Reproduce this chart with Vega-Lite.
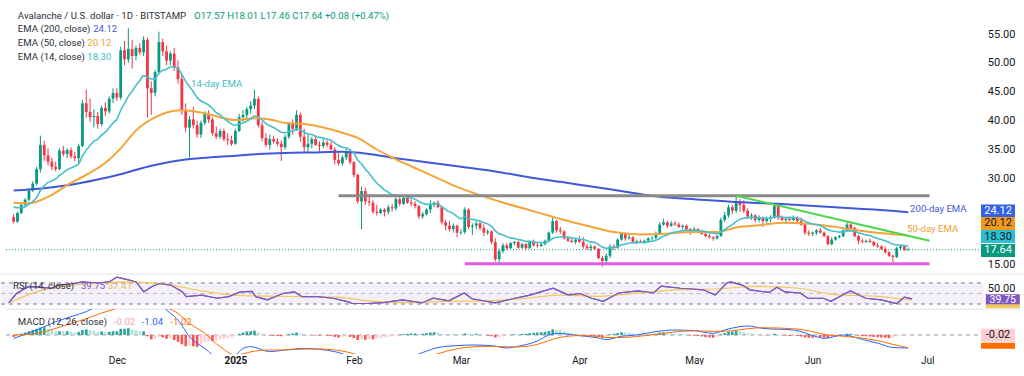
{
"$schema":"https://vega.github.io/schema/vega-lite/v6.json",
"padding":0,
"background":"#ffffff",
"spacing":0,
"bounds":"flush",
"config":{"view":{"stroke":null},"axis":{"grid":false,"domain":false,"ticks":false,"tickSize":0,"title":null,"labelOverlap":false},"axisY":{"labelOverlap":false},"font":"Roboto"},
"resolve":{"scale":{"y":"independent"}},
"datasets":{
"candles":[
{"t":"2024-11-04","o":23.3,"h":23.8,"l":22.2,"c":22.5,"e":25.1,"g":-0.15},
{"t":"2024-11-05","o":22.5,"h":24.2,"l":22.3,"c":24.0,"e":24.9,"g":-0.1},
{"t":"2024-11-06","o":24.0,"h":25.8,"l":23.8,"c":25.4,"e":24.9,"g":0.1},
{"t":"2024-11-07","o":25.4,"h":26.6,"l":25.0,"c":26.3,"e":25.1,"g":0.2},
{"t":"2024-11-08","o":26.3,"h":28.2,"l":26.0,"c":27.9,"e":25.5,"g":0.3},
{"t":"2024-11-09","o":27.9,"h":29.5,"l":27.6,"c":29.1,"e":26.0,"g":0.4},
{"t":"2024-11-10","o":29.1,"h":32.0,"l":28.8,"c":31.6,"e":26.7,"g":0.5},
{"t":"2024-11-11","o":31.6,"h":37.4,"l":31.0,"c":35.8,"e":27.9,"g":0.6},
{"t":"2024-11-12","o":35.8,"h":36.5,"l":33.0,"c":34.0,"e":28.7,"g":0.62},
{"t":"2024-11-13","o":34.0,"h":35.2,"l":32.2,"c":32.9,"e":29.3,"g":0.5},
{"t":"2024-11-14","o":32.9,"h":33.6,"l":31.4,"c":32.0,"e":29.6,"g":0.4},
{"t":"2024-11-15","o":32.0,"h":32.9,"l":31.2,"c":31.6,"e":29.9,"g":0.3},
{"t":"2024-11-16","o":31.6,"h":35.2,"l":31.4,"c":34.8,"e":30.5,"g":0.3},
{"t":"2024-11-17","o":34.8,"h":35.6,"l":33.8,"c":34.2,"e":31.0,"g":0.28},
{"t":"2024-11-18","o":34.2,"h":35.2,"l":33.5,"c":34.9,"e":31.5,"g":0.3},
{"t":"2024-11-19","o":34.9,"h":35.4,"l":33.4,"c":33.8,"e":31.8,"g":0.25},
{"t":"2024-11-20","o":33.8,"h":34.6,"l":33.0,"c":33.5,"e":32.1,"g":0.2},
{"t":"2024-11-21","o":33.5,"h":36.0,"l":32.7,"c":35.6,"e":32.5,"g":0.25},
{"t":"2024-11-22","o":35.6,"h":43.6,"l":35.4,"c":43.0,"e":33.9,"g":0.4},
{"t":"2024-11-23","o":43.0,"h":45.4,"l":40.5,"c":41.5,"e":34.9,"g":0.45},
{"t":"2024-11-24","o":41.5,"h":43.8,"l":39.8,"c":40.6,"e":35.7,"g":0.4},
{"t":"2024-11-25","o":40.6,"h":42.0,"l":38.8,"c":40.8,"e":36.4,"g":0.35},
{"t":"2024-11-26","o":40.8,"h":41.5,"l":38.6,"c":39.4,"e":36.8,"g":0.25},
{"t":"2024-11-27","o":39.4,"h":42.6,"l":39.0,"c":42.2,"e":37.5,"g":0.28},
{"t":"2024-11-28","o":42.2,"h":43.2,"l":40.8,"c":41.6,"e":38.0,"g":0.22},
{"t":"2024-11-29","o":41.6,"h":44.2,"l":41.2,"c":43.8,"e":38.8,"g":0.25},
{"t":"2024-11-30","o":43.8,"h":45.6,"l":43.0,"c":44.8,"e":39.6,"g":0.3},
{"t":"2024-12-01","o":44.8,"h":45.6,"l":43.4,"c":44.0,"e":40.2,"g":0.3},
{"t":"2024-12-02","o":44.0,"h":52.8,"l":43.6,"c":52.2,"e":41.8,"g":0.5},
{"t":"2024-12-03","o":52.2,"h":53.8,"l":49.6,"c":50.6,"e":43.0,"g":0.5},
{"t":"2024-12-04","o":50.6,"h":56.0,"l":50.0,"c":52.4,"e":44.2,"g":0.55},
{"t":"2024-12-05","o":52.4,"h":54.0,"l":49.0,"c":51.2,"e":45.1,"g":0.45},
{"t":"2024-12-06","o":51.2,"h":53.0,"l":50.4,"c":52.6,"e":46.1,"g":0.4},
{"t":"2024-12-07","o":52.6,"h":53.4,"l":51.4,"c":51.8,"e":46.9,"g":0.3},
{"t":"2024-12-08","o":51.8,"h":54.6,"l":51.2,"c":54.0,"e":47.8,"g":0.3},
{"t":"2024-12-09","o":54.0,"h":54.4,"l":40.5,"c":45.6,"e":47.5,"g":-0.1},
{"t":"2024-12-10","o":45.6,"h":46.8,"l":41.0,"c":44.8,"e":47.2,"g":-0.35},
{"t":"2024-12-11","o":44.8,"h":48.8,"l":44.2,"c":48.4,"e":47.3,"g":-0.3},
{"t":"2024-12-12","o":48.4,"h":55.4,"l":48.0,"c":53.6,"e":48.2,"g":-0.15},
{"t":"2024-12-13","o":53.6,"h":54.2,"l":51.2,"c":52.0,"e":48.7,"g":-0.2},
{"t":"2024-12-14","o":52.0,"h":53.0,"l":49.6,"c":50.4,"e":48.9,"g":-0.3},
{"t":"2024-12-15","o":50.4,"h":52.0,"l":49.6,"c":51.6,"e":49.3,"g":-0.28},
{"t":"2024-12-16","o":51.6,"h":52.6,"l":48.6,"c":49.2,"e":49.3,"g":-0.4},
{"t":"2024-12-17","o":49.2,"h":50.4,"l":46.4,"c":47.2,"e":49.0,"g":-0.55},
{"t":"2024-12-18","o":47.2,"h":48.0,"l":41.0,"c":41.8,"e":48.0,"g":-0.75},
{"t":"2024-12-19","o":41.8,"h":43.0,"l":38.0,"c":38.8,"e":46.8,"g":-0.9},
{"t":"2024-12-20","o":38.8,"h":40.8,"l":33.6,"c":40.2,"e":45.9,"g":-0.85},
{"t":"2024-12-21","o":40.2,"h":42.4,"l":38.6,"c":39.2,"e":45.0,"g":-0.9},
{"t":"2024-12-22","o":39.2,"h":40.0,"l":37.0,"c":37.6,"e":44.0,"g":-0.95},
{"t":"2024-12-23","o":37.6,"h":40.0,"l":37.0,"c":39.6,"e":43.4,"g":-0.75},
{"t":"2024-12-24","o":39.6,"h":41.6,"l":39.2,"c":41.2,"e":43.1,"g":-0.55},
{"t":"2024-12-25","o":41.2,"h":41.8,"l":39.6,"c":40.2,"e":42.7,"g":-0.5},
{"t":"2024-12-26","o":40.2,"h":40.6,"l":37.4,"c":37.8,"e":42.1,"g":-0.5},
{"t":"2024-12-27","o":37.8,"h":39.0,"l":36.8,"c":37.2,"e":41.4,"g":-0.45},
{"t":"2024-12-28","o":37.2,"h":38.6,"l":36.8,"c":38.2,"e":41.0,"g":-0.35},
{"t":"2024-12-29","o":38.2,"h":38.6,"l":36.4,"c":36.8,"e":40.4,"g":-0.3},
{"t":"2024-12-30","o":36.8,"h":37.8,"l":35.8,"c":36.6,"e":39.9,"g":-0.25},
{"t":"2024-12-31","o":36.6,"h":37.4,"l":35.6,"c":36.0,"e":39.4,"g":-0.2},
{"t":"2025-01-01","o":36.0,"h":38.6,"l":35.8,"c":38.2,"e":39.2,"g":-0.05},
{"t":"2025-01-02","o":38.2,"h":41.2,"l":38.0,"c":40.6,"e":39.4,"g":0.1},
{"t":"2025-01-03","o":40.6,"h":41.8,"l":39.8,"c":41.0,"e":39.6,"g":0.2},
{"t":"2025-01-04","o":41.0,"h":42.4,"l":40.4,"c":42.0,"e":39.9,"g":0.28},
{"t":"2025-01-05","o":42.0,"h":43.4,"l":41.2,"c":42.6,"e":40.3,"g":0.3},
{"t":"2025-01-06","o":42.6,"h":45.4,"l":42.0,"c":43.8,"e":40.8,"g":0.35},
{"t":"2025-01-07","o":43.8,"h":44.2,"l":38.8,"c":39.2,"e":40.6,"g":0.2},
{"t":"2025-01-08","o":39.2,"h":39.8,"l":36.4,"c":37.0,"e":40.1,"g":0.1},
{"t":"2025-01-09","o":37.0,"h":37.8,"l":35.4,"c":35.8,"e":39.5,"g":0.0},
{"t":"2025-01-10","o":35.8,"h":37.6,"l":35.0,"c":36.8,"e":39.1,"g":-0.05},
{"t":"2025-01-11","o":36.8,"h":37.4,"l":36.0,"c":36.4,"e":38.8,"g":-0.05},
{"t":"2025-01-12","o":36.4,"h":37.0,"l":35.6,"c":36.0,"e":38.4,"g":-0.08},
{"t":"2025-01-13","o":36.0,"h":36.6,"l":33.0,"c":35.4,"e":38.0,"g":-0.1},
{"t":"2025-01-14","o":35.4,"h":37.6,"l":35.0,"c":37.2,"e":37.9,"g":-0.05},
{"t":"2025-01-15","o":37.2,"h":39.8,"l":36.8,"c":39.4,"e":38.1,"g":0.08},
{"t":"2025-01-16","o":39.4,"h":40.2,"l":37.6,"c":38.6,"e":38.2,"g":0.12},
{"t":"2025-01-17","o":38.6,"h":41.8,"l":38.2,"c":41.0,"e":38.5,"g":0.2},
{"t":"2025-01-18","o":41.0,"h":41.4,"l":36.4,"c":37.2,"e":38.4,"g":0.1},
{"t":"2025-01-19","o":37.2,"h":38.6,"l":34.6,"c":35.4,"e":38.0,"g":0.02},
{"t":"2025-01-20","o":35.4,"h":37.8,"l":34.4,"c":36.0,"e":37.7,"g":-0.02},
{"t":"2025-01-21","o":36.0,"h":37.2,"l":35.2,"c":36.8,"e":37.6,"g":0.0},
{"t":"2025-01-22","o":36.8,"h":37.4,"l":35.6,"c":35.8,"e":37.3,"g":-0.05},
{"t":"2025-01-23","o":35.8,"h":36.4,"l":34.6,"c":35.6,"e":37.1,"g":-0.05},
{"t":"2025-01-24","o":35.6,"h":36.8,"l":35.2,"c":36.2,"e":37.0,"g":-0.02},
{"t":"2025-01-25","o":36.2,"h":36.6,"l":35.4,"c":35.8,"e":36.8,"g":-0.05},
{"t":"2025-01-26","o":35.8,"h":36.4,"l":34.8,"c":35.0,"e":36.6,"g":-0.08},
{"t":"2025-01-27","o":35.0,"h":35.4,"l":32.4,"c":33.2,"e":36.1,"g":-0.15},
{"t":"2025-01-28","o":33.2,"h":34.4,"l":32.2,"c":32.6,"e":35.7,"g":-0.2},
{"t":"2025-01-29","o":32.6,"h":34.0,"l":32.2,"c":33.6,"e":35.4,"g":-0.15},
{"t":"2025-01-30","o":33.6,"h":35.2,"l":33.2,"c":34.6,"e":35.3,"g":-0.1},
{"t":"2025-01-31","o":34.6,"h":35.0,"l":32.4,"c":32.8,"e":34.9,"g":-0.15},
{"t":"2025-02-01","o":32.8,"h":33.0,"l":30.2,"c":30.6,"e":34.4,"g":-0.25},
{"t":"2025-02-02","o":30.6,"h":30.8,"l":25.6,"c":26.0,"e":33.2,"g":-0.4},
{"t":"2025-02-03","o":26.0,"h":28.6,"l":21.2,"c":27.8,"e":32.5,"g":-0.35},
{"t":"2025-02-04","o":27.8,"h":28.4,"l":25.4,"c":26.0,"e":31.6,"g":-0.38},
{"t":"2025-02-05","o":26.0,"h":26.8,"l":25.2,"c":25.8,"e":30.9,"g":-0.35},
{"t":"2025-02-06","o":25.8,"h":26.2,"l":23.8,"c":24.2,"e":30.0,"g":-0.35},
{"t":"2025-02-07","o":24.2,"h":25.4,"l":23.6,"c":24.0,"e":29.2,"g":-0.3},
{"t":"2025-02-08","o":24.0,"h":24.8,"l":23.8,"c":24.6,"e":28.6,"g":-0.25},
{"t":"2025-02-09","o":24.6,"h":24.8,"l":23.4,"c":24.2,"e":28.0,"g":-0.2},
{"t":"2025-02-10","o":24.2,"h":25.4,"l":23.8,"c":25.0,"e":27.6,"g":-0.15},
{"t":"2025-02-11","o":25.0,"h":25.6,"l":24.2,"c":24.8,"e":27.2,"g":-0.12},
{"t":"2025-02-12","o":24.8,"h":26.8,"l":24.4,"c":26.4,"e":27.1,"g":-0.05},
{"t":"2025-02-13","o":26.4,"h":26.8,"l":25.2,"c":25.6,"e":26.9,"g":0.02},
{"t":"2025-02-14","o":25.6,"h":27.0,"l":25.4,"c":26.6,"e":26.9,"g":0.08},
{"t":"2025-02-15","o":26.6,"h":26.8,"l":25.6,"c":25.8,"e":26.7,"g":0.1},
{"t":"2025-02-16","o":25.8,"h":26.4,"l":25.2,"c":25.6,"e":26.6,"g":0.12},
{"t":"2025-02-17","o":25.6,"h":26.0,"l":24.8,"c":25.2,"e":26.4,"g":0.12},
{"t":"2025-02-18","o":25.2,"h":25.4,"l":23.0,"c":23.4,"e":26.0,"g":0.08},
{"t":"2025-02-19","o":23.4,"h":24.2,"l":23.0,"c":23.8,"e":25.7,"g":0.1},
{"t":"2025-02-20","o":23.8,"h":24.8,"l":23.6,"c":24.6,"e":25.5,"g":0.15},
{"t":"2025-02-21","o":24.6,"h":26.2,"l":24.0,"c":25.4,"e":25.5,"g":0.2},
{"t":"2025-02-22","o":25.4,"h":26.0,"l":25.0,"c":25.8,"e":25.6,"g":0.22},
{"t":"2025-02-23","o":25.8,"h":26.2,"l":24.8,"c":25.0,"e":25.5,"g":0.2},
{"t":"2025-02-24","o":25.0,"h":25.2,"l":22.0,"c":22.4,"e":25.1,"g":0.1},
{"t":"2025-02-25","o":22.4,"h":22.8,"l":21.0,"c":21.8,"e":24.6,"g":0.05},
{"t":"2025-02-26","o":21.8,"h":22.6,"l":20.8,"c":21.2,"e":24.2,"g":0.02},
{"t":"2025-02-27","o":21.2,"h":22.2,"l":20.6,"c":21.8,"e":23.9,"g":0.04},
{"t":"2025-02-28","o":21.8,"h":22.0,"l":19.8,"c":20.6,"e":23.4,"g":0.0},
{"t":"2025-03-01","o":20.6,"h":21.2,"l":20.2,"c":20.7,"e":23.0,"g":0.02},
{"t":"2025-03-02","o":20.7,"h":25.0,"l":20.4,"c":24.6,"e":23.3,"g":0.12},
{"t":"2025-03-03","o":24.6,"h":24.8,"l":21.2,"c":21.6,"e":23.0,"g":0.1},
{"t":"2025-03-04","o":21.6,"h":22.2,"l":20.2,"c":21.8,"e":22.9,"g":0.08},
{"t":"2025-03-05","o":21.8,"h":22.6,"l":21.2,"c":22.2,"e":22.8,"g":0.1},
{"t":"2025-03-06","o":22.2,"h":22.6,"l":21.0,"c":21.4,"e":22.6,"g":0.06},
{"t":"2025-03-07","o":21.4,"h":22.0,"l":20.0,"c":20.6,"e":22.3,"g":0.0},
{"t":"2025-03-08","o":20.6,"h":21.2,"l":20.2,"c":20.8,"e":22.1,"g":-0.05},
{"t":"2025-03-09","o":20.8,"h":21.0,"l":18.6,"c":19.0,"e":21.7,"g":-0.1},
{"t":"2025-03-10","o":19.0,"h":19.6,"l":15.6,"c":16.0,"e":20.9,"g":-0.2},
{"t":"2025-03-11","o":16.0,"h":17.8,"l":15.3,"c":17.4,"e":20.4,"g":-0.18},
{"t":"2025-03-12","o":17.4,"h":18.8,"l":17.0,"c":18.4,"e":20.2,"g":-0.1},
{"t":"2025-03-13","o":18.4,"h":18.8,"l":17.6,"c":17.9,"e":19.9,"g":-0.05},
{"t":"2025-03-14","o":17.9,"h":19.0,"l":17.8,"c":18.8,"e":19.7,"g":0.02},
{"t":"2025-03-15","o":18.8,"h":19.2,"l":18.4,"c":19.0,"e":19.6,"g":0.06},
{"t":"2025-03-16","o":19.0,"h":19.2,"l":17.8,"c":18.0,"e":19.4,"g":0.05},
{"t":"2025-03-17","o":18.0,"h":18.8,"l":17.8,"c":18.6,"e":19.3,"g":0.08},
{"t":"2025-03-18","o":18.6,"h":18.8,"l":17.6,"c":17.9,"e":19.1,"g":0.1},
{"t":"2025-03-19","o":17.9,"h":19.2,"l":17.8,"c":19.0,"e":19.1,"g":0.15},
{"t":"2025-03-20","o":19.0,"h":19.4,"l":18.2,"c":18.4,"e":19.0,"g":0.18},
{"t":"2025-03-21","o":18.4,"h":18.8,"l":18.0,"c":18.3,"e":18.9,"g":0.2},
{"t":"2025-03-22","o":18.3,"h":18.8,"l":18.1,"c":18.6,"e":18.9,"g":0.22},
{"t":"2025-03-23","o":18.6,"h":19.4,"l":18.4,"c":19.2,"e":18.9,"g":0.25},
{"t":"2025-03-24","o":19.2,"h":20.8,"l":19.1,"c":20.6,"e":19.1,"g":0.32},
{"t":"2025-03-25","o":20.6,"h":23.2,"l":20.4,"c":22.6,"e":19.6,"g":0.45},
{"t":"2025-03-26","o":22.6,"h":22.8,"l":20.6,"c":21.0,"e":19.8,"g":0.42},
{"t":"2025-03-27","o":21.0,"h":21.6,"l":20.4,"c":20.8,"e":19.9,"g":0.38},
{"t":"2025-03-28","o":20.8,"h":21.0,"l":19.4,"c":19.6,"e":19.9,"g":0.3},
{"t":"2025-03-29","o":19.6,"h":20.0,"l":19.0,"c":19.2,"e":19.8,"g":0.22},
{"t":"2025-03-30","o":19.2,"h":19.6,"l":18.8,"c":19.0,"e":19.7,"g":0.15},
{"t":"2025-03-31","o":19.0,"h":19.6,"l":18.6,"c":19.4,"e":19.6,"g":0.1},
{"t":"2025-04-01","o":19.4,"h":20.0,"l":18.8,"c":19.0,"e":19.5,"g":0.05},
{"t":"2025-04-02","o":19.0,"h":19.8,"l":17.8,"c":18.2,"e":19.4,"g":0.0},
{"t":"2025-04-03","o":18.2,"h":18.6,"l":17.6,"c":17.9,"e":19.2,"g":-0.05},
{"t":"2025-04-04","o":17.9,"h":18.6,"l":17.4,"c":18.2,"e":19.0,"g":-0.08},
{"t":"2025-04-05","o":18.2,"h":18.4,"l":17.6,"c":17.8,"e":18.9,"g":-0.1},
{"t":"2025-04-06","o":17.8,"h":17.9,"l":16.0,"c":16.2,"e":18.5,"g":-0.15},
{"t":"2025-04-07","o":16.2,"h":16.6,"l":14.7,"c":15.7,"e":18.1,"g":-0.2},
{"t":"2025-04-08","o":15.7,"h":17.0,"l":15.4,"c":16.6,"e":17.9,"g":-0.1},
{"t":"2025-04-09","o":16.6,"h":18.6,"l":16.2,"c":18.2,"e":18.0,"g":0.05},
{"t":"2025-04-10","o":18.2,"h":18.6,"l":17.6,"c":18.0,"e":18.0,"g":0.1},
{"t":"2025-04-11","o":18.0,"h":19.6,"l":17.8,"c":19.4,"e":18.2,"g":0.15},
{"t":"2025-04-12","o":19.4,"h":20.6,"l":19.2,"c":20.4,"e":18.5,"g":0.22},
{"t":"2025-04-13","o":20.4,"h":20.6,"l":19.2,"c":19.6,"e":18.6,"g":0.2},
{"t":"2025-04-14","o":19.6,"h":20.2,"l":19.4,"c":19.8,"e":18.8,"g":0.18},
{"t":"2025-04-15","o":19.8,"h":20.0,"l":18.8,"c":19.0,"e":18.8,"g":0.12},
{"t":"2025-04-16","o":19.0,"h":19.4,"l":18.6,"c":19.1,"e":18.9,"g":0.1},
{"t":"2025-04-17","o":19.1,"h":19.4,"l":18.8,"c":19.0,"e":18.9,"g":0.08},
{"t":"2025-04-18","o":19.0,"h":19.4,"l":18.7,"c":19.2,"e":18.9,"g":0.06},
{"t":"2025-04-19","o":19.2,"h":19.8,"l":19.0,"c":19.6,"e":19.0,"g":0.05},
{"t":"2025-04-20","o":19.6,"h":20.0,"l":19.2,"c":19.7,"e":19.1,"g":0.05},
{"t":"2025-04-21","o":19.7,"h":20.8,"l":19.4,"c":20.4,"e":19.3,"g":0.1},
{"t":"2025-04-22","o":20.4,"h":22.4,"l":20.2,"c":22.0,"e":19.6,"g":0.2},
{"t":"2025-04-23","o":22.0,"h":23.0,"l":21.8,"c":22.4,"e":20.0,"g":0.22},
{"t":"2025-04-24","o":22.4,"h":22.6,"l":21.4,"c":21.8,"e":20.2,"g":0.18},
{"t":"2025-04-25","o":21.8,"h":22.6,"l":21.6,"c":22.2,"e":20.5,"g":0.15},
{"t":"2025-04-26","o":22.2,"h":22.6,"l":21.8,"c":22.0,"e":20.7,"g":0.12},
{"t":"2025-04-27","o":22.0,"h":22.4,"l":21.4,"c":21.6,"e":20.8,"g":0.08},
{"t":"2025-04-28","o":21.6,"h":22.0,"l":21.2,"c":21.8,"e":21.0,"g":0.06},
{"t":"2025-04-29","o":21.8,"h":22.0,"l":21.0,"c":21.2,"e":21.0,"g":0.02},
{"t":"2025-04-30","o":21.2,"h":21.4,"l":20.2,"c":20.8,"e":21.0,"g":-0.05},
{"t":"2025-05-01","o":20.8,"h":21.6,"l":20.6,"c":21.2,"e":21.0,"g":-0.05},
{"t":"2025-05-02","o":21.2,"h":21.4,"l":20.6,"c":20.8,"e":21.0,"g":-0.08},
{"t":"2025-05-03","o":20.8,"h":21.0,"l":20.2,"c":20.4,"e":20.9,"g":-0.12},
{"t":"2025-05-04","o":20.4,"h":20.6,"l":19.8,"c":20.0,"e":20.8,"g":-0.18},
{"t":"2025-05-05","o":20.0,"h":20.4,"l":19.6,"c":19.8,"e":20.6,"g":-0.2},
{"t":"2025-05-06","o":19.8,"h":20.0,"l":19.2,"c":19.6,"e":20.5,"g":-0.22},
{"t":"2025-05-07","o":19.6,"h":20.2,"l":19.4,"c":20.0,"e":20.4,"g":-0.15},
{"t":"2025-05-08","o":20.0,"h":23.2,"l":19.9,"c":22.8,"e":20.7,"g":0.05},
{"t":"2025-05-09","o":22.8,"h":24.2,"l":22.4,"c":23.6,"e":21.1,"g":0.15},
{"t":"2025-05-10","o":23.6,"h":25.4,"l":23.2,"c":25.0,"e":21.6,"g":0.28},
{"t":"2025-05-11","o":25.0,"h":25.4,"l":23.8,"c":24.4,"e":22.0,"g":0.28},
{"t":"2025-05-12","o":24.4,"h":27.0,"l":24.0,"c":26.0,"e":22.5,"g":0.35},
{"t":"2025-05-13","o":26.0,"h":26.4,"l":24.2,"c":25.4,"e":22.9,"g":0.3},
{"t":"2025-05-14","o":25.4,"h":26.2,"l":24.0,"c":24.4,"e":23.1,"g":0.22},
{"t":"2025-05-15","o":24.4,"h":24.8,"l":23.0,"c":23.4,"e":23.2,"g":0.15},
{"t":"2025-05-16","o":23.4,"h":24.0,"l":22.8,"c":23.6,"e":23.2,"g":0.1},
{"t":"2025-05-17","o":23.6,"h":23.8,"l":22.4,"c":22.8,"e":23.2,"g":0.05},
{"t":"2025-05-18","o":22.8,"h":23.6,"l":22.4,"c":23.2,"e":23.2,"g":0.03},
{"t":"2025-05-19","o":23.2,"h":23.4,"l":21.6,"c":22.6,"e":23.1,"g":-0.02},
{"t":"2025-05-20","o":22.6,"h":23.4,"l":22.2,"c":23.0,"e":23.1,"g":-0.02},
{"t":"2025-05-21","o":23.0,"h":23.6,"l":22.4,"c":23.2,"e":23.1,"g":0.0},
{"t":"2025-05-22","o":23.2,"h":25.6,"l":23.0,"c":25.2,"e":23.4,"g":0.1},
{"t":"2025-05-23","o":25.2,"h":25.4,"l":22.8,"c":23.2,"e":23.4,"g":0.05},
{"t":"2025-05-24","o":23.2,"h":23.6,"l":22.6,"c":22.8,"e":23.3,"g":-0.02},
{"t":"2025-05-25","o":22.8,"h":23.2,"l":22.2,"c":23.0,"e":23.2,"g":-0.05},
{"t":"2025-05-26","o":23.0,"h":23.4,"l":22.6,"c":22.8,"e":23.2,"g":-0.08},
{"t":"2025-05-27","o":22.8,"h":23.6,"l":22.6,"c":23.2,"e":23.2,"g":-0.06},
{"t":"2025-05-28","o":23.2,"h":23.4,"l":22.4,"c":22.6,"e":23.1,"g":-0.08},
{"t":"2025-05-29","o":22.6,"h":23.2,"l":21.8,"c":22.0,"e":22.9,"g":-0.12},
{"t":"2025-05-30","o":22.0,"h":22.2,"l":20.2,"c":20.6,"e":22.6,"g":-0.2},
{"t":"2025-05-31","o":20.6,"h":21.0,"l":20.0,"c":20.4,"e":22.3,"g":-0.22},
{"t":"2025-06-01","o":20.4,"h":20.8,"l":20.0,"c":20.6,"e":22.1,"g":-0.22},
{"t":"2025-06-02","o":20.6,"h":21.2,"l":20.2,"c":21.0,"e":22.0,"g":-0.18},
{"t":"2025-06-03","o":21.0,"h":21.4,"l":20.4,"c":20.6,"e":21.8,"g":-0.18},
{"t":"2025-06-04","o":20.6,"h":20.8,"l":19.8,"c":20.0,"e":21.5,"g":-0.2},
{"t":"2025-06-05","o":20.0,"h":20.2,"l":18.4,"c":18.6,"e":21.1,"g":-0.25},
{"t":"2025-06-06","o":18.6,"h":19.8,"l":18.4,"c":19.4,"e":20.9,"g":-0.2},
{"t":"2025-06-07","o":19.4,"h":20.0,"l":19.2,"c":19.8,"e":20.8,"g":-0.15},
{"t":"2025-06-08","o":19.8,"h":20.2,"l":19.6,"c":20.0,"e":20.7,"g":-0.1},
{"t":"2025-06-09","o":20.0,"h":21.2,"l":19.8,"c":21.0,"e":20.7,"g":0.0},
{"t":"2025-06-10","o":21.0,"h":22.4,"l":20.8,"c":22.0,"e":20.9,"g":0.1},
{"t":"2025-06-11","o":22.0,"h":22.2,"l":21.0,"c":21.4,"e":20.9,"g":0.1},
{"t":"2025-06-12","o":21.4,"h":21.6,"l":19.8,"c":20.0,"e":20.8,"g":0.05},
{"t":"2025-06-13","o":20.0,"h":20.2,"l":18.6,"c":19.2,"e":20.6,"g":-0.05},
{"t":"2025-06-14","o":19.2,"h":19.6,"l":18.8,"c":19.0,"e":20.4,"g":-0.08},
{"t":"2025-06-15","o":19.0,"h":19.4,"l":18.8,"c":19.2,"e":20.2,"g":-0.1},
{"t":"2025-06-16","o":19.2,"h":19.6,"l":18.8,"c":19.0,"e":20.1,"g":-0.12},
{"t":"2025-06-17","o":19.0,"h":19.2,"l":18.2,"c":18.4,"e":19.8,"g":-0.15},
{"t":"2025-06-18","o":18.4,"h":18.8,"l":18.0,"c":18.2,"e":19.6,"g":-0.18},
{"t":"2025-06-19","o":18.2,"h":18.4,"l":17.6,"c":17.8,"e":19.4,"g":-0.2},
{"t":"2025-06-20","o":17.8,"h":18.2,"l":17.0,"c":17.2,"e":19.2,"g":-0.22},
{"t":"2025-06-21","o":17.2,"h":17.4,"l":16.4,"c":16.6,"e":18.9,"g":-0.25},
{"t":"2025-06-22","o":16.6,"h":16.8,"l":15.5,"c":16.4,"e":18.6,"g":-0.2},
{"t":"2025-06-23","o":16.4,"h":18.2,"l":16.2,"c":17.9,"e":18.5,"g":-0.12},
{"t":"2025-06-24","o":17.9,"h":18.4,"l":17.5,"c":18.2,"e":18.45,"g":-0.08},
{"t":"2025-06-25","o":18.2,"h":18.3,"l":17.5,"c":17.57,"e":18.35,"g":-0.05},
{"t":"2025-06-26","o":17.57,"h":18.01,"l":17.46,"c":17.64,"e":18.3,"g":-0.02}
],
"e200":[
{"t":"2024-11-04","v":27.9},{"t":"2024-11-12","v":28.3},{"t":"2024-11-19","v":28.9},{"t":"2024-11-26","v":29.8},{"t":"2024-12-03","v":30.9},{"t":"2024-12-10","v":32.2},{"t":"2024-12-18","v":33.2},{"t":"2024-12-25","v":33.6},{"t":"2025-01-01","v":33.9},{"t":"2025-01-07","v":34.2},{"t":"2025-01-14","v":34.4},{"t":"2025-01-21","v":34.5},{"t":"2025-01-29","v":34.6},{"t":"2025-02-04","v":34.3},{"t":"2025-02-12","v":33.5},{"t":"2025-02-20","v":32.8},{"t":"2025-03-01","v":32.0},{"t":"2025-03-10","v":31.2},{"t":"2025-03-18","v":30.3},{"t":"2025-03-27","v":29.4},{"t":"2025-04-05","v":28.5},{"t":"2025-04-13","v":27.7},{"t":"2025-04-22","v":26.8},{"t":"2025-05-01","v":26.4},{"t":"2025-05-12","v":25.9},{"t":"2025-05-25","v":25.5},{"t":"2025-06-07","v":25.0},{"t":"2025-06-17","v":24.6},{"t":"2025-06-26","v":24.12}
],
"e50":[
{"t":"2024-11-04","v":25.8},{"t":"2024-11-08","v":25.7},{"t":"2024-11-13","v":26.8},{"t":"2024-11-19","v":29.2},{"t":"2024-11-23","v":30.6},{"t":"2024-11-28","v":32.7},{"t":"2024-12-02","v":35.2},{"t":"2024-12-06","v":38.3},{"t":"2024-12-10","v":40.2},{"t":"2024-12-14","v":41.4},{"t":"2024-12-18","v":41.8},{"t":"2024-12-23","v":41.4},{"t":"2024-12-28","v":40.6},{"t":"2025-01-01","v":40.1},{"t":"2025-01-06","v":40.4},{"t":"2025-01-10","v":40.2},{"t":"2025-01-14","v":39.6},{"t":"2025-01-19","v":39.4},{"t":"2025-01-24","v":38.8},{"t":"2025-01-29","v":37.9},{"t":"2025-02-02","v":37.0},{"t":"2025-02-07","v":35.0},{"t":"2025-02-12","v":33.3},{"t":"2025-02-17","v":31.8},{"t":"2025-02-21","v":30.6},{"t":"2025-02-27","v":28.8},{"t":"2025-03-06","v":27.1},{"t":"2025-03-13","v":25.6},{"t":"2025-03-19","v":24.5},{"t":"2025-03-28","v":22.8},{"t":"2025-04-03","v":21.8},{"t":"2025-04-10","v":20.7},{"t":"2025-04-17","v":20.3},{"t":"2025-04-23","v":20.4},{"t":"2025-04-30","v":20.7},{"t":"2025-05-07","v":20.7},{"t":"2025-05-12","v":21.5},{"t":"2025-05-18","v":21.9},{"t":"2025-05-25","v":22.3},{"t":"2025-05-30","v":22.2},{"t":"2025-06-07","v":21.6},{"t":"2025-06-16","v":20.7},{"t":"2025-06-26","v":20.12}
],
"rsi":[
{"t":"2024-11-04","v":32},{"t":"2024-11-06","v":50},{"t":"2024-11-09","v":63},{"t":"2024-11-12","v":62},{"t":"2024-11-15","v":60},{"t":"2024-11-17","v":66},{"t":"2024-11-21","v":69},{"t":"2024-11-23","v":72},{"t":"2024-11-27","v":70},{"t":"2024-11-30","v":72},{"t":"2024-12-02","v":81},{"t":"2024-12-05","v":76},{"t":"2024-12-07","v":72},{"t":"2024-12-09","v":53},{"t":"2024-12-11","v":63},{"t":"2024-12-13","v":69},{"t":"2024-12-16","v":66},{"t":"2024-12-19","v":53},{"t":"2024-12-20","v":44},{"t":"2024-12-24","v":47},{"t":"2024-12-28","v":41},{"t":"2024-12-31","v":44},{"t":"2025-01-03","v":53},{"t":"2025-01-06","v":54},{"t":"2025-01-07","v":44},{"t":"2025-01-10","v":38},{"t":"2025-01-14","v":50},{"t":"2025-01-17","v":53},{"t":"2025-01-19","v":44},{"t":"2025-01-23","v":44},{"t":"2025-01-27","v":41},{"t":"2025-01-31","v":34},{"t":"2025-02-01","v":31},{"t":"2025-02-05","v":31},{"t":"2025-02-09","v":32.5},{"t":"2025-02-14","v":38},{"t":"2025-02-19","v":32},{"t":"2025-02-22","v":41},{"t":"2025-02-26","v":36},{"t":"2025-03-02","v":51},{"t":"2025-03-04","v":40},{"t":"2025-03-10","v":32},{"t":"2025-03-14","v":39},{"t":"2025-03-19","v":47},{"t":"2025-03-25","v":60},{"t":"2025-03-29","v":47},{"t":"2025-04-01","v":50},{"t":"2025-04-04","v":41},{"t":"2025-04-07","v":35},{"t":"2025-04-11","v":51},{"t":"2025-04-16","v":55},{"t":"2025-04-20","v":51},{"t":"2025-04-22","v":64},{"t":"2025-04-27","v":60},{"t":"2025-05-03","v":57},{"t":"2025-05-06","v":47},{"t":"2025-05-09","v":70},{"t":"2025-05-10","v":72},{"t":"2025-05-13","v":66},{"t":"2025-05-15","v":57},{"t":"2025-05-20","v":52},{"t":"2025-05-22","v":62},{"t":"2025-05-24","v":53},{"t":"2025-05-28","v":51},{"t":"2025-05-30","v":41},{"t":"2025-06-03","v":41},{"t":"2025-06-05","v":35},{"t":"2025-06-08","v":47},{"t":"2025-06-10","v":55},{"t":"2025-06-14","v":41},{"t":"2025-06-18","v":38},{"t":"2025-06-22","v":31},{"t":"2025-06-24","v":43},{"t":"2025-06-26","v":39.75}
],
"rsima":[
{"t":"2024-11-04","v":32},{"t":"2024-11-12","v":55},{"t":"2024-11-20","v":66},{"t":"2024-11-28","v":70},{"t":"2024-12-04","v":72},{"t":"2024-12-09","v":71},{"t":"2024-12-16","v":66},{"t":"2024-12-24","v":55},{"t":"2025-01-01","v":47},{"t":"2025-01-10","v":45},{"t":"2025-01-20","v":44},{"t":"2025-01-28","v":43},{"t":"2025-02-05","v":36},{"t":"2025-02-14","v":33},{"t":"2025-02-26","v":35},{"t":"2025-03-08","v":36},{"t":"2025-03-16","v":39.5},{"t":"2025-03-27","v":47},{"t":"2025-04-05","v":44.6},{"t":"2025-04-16","v":51},{"t":"2025-04-26","v":57},{"t":"2025-05-06","v":58.6},{"t":"2025-05-17","v":63.5},{"t":"2025-05-27","v":60.5},{"t":"2025-06-06","v":48},{"t":"2025-06-17","v":44.6},{"t":"2025-06-26","v":37.41}
],
"macd":[
{"t":"2024-11-04","m":-0.27,"s":0},{"t":"2024-11-10","m":0.4,"s":0.13},{"t":"2024-11-15","m":1.06,"s":0.53},{"t":"2024-11-19","m":1.47,"s":0.93},{"t":"2024-11-23","m":1.87,"s":1.3},{"t":"2024-11-27","m":2.5,"s":1.75},{"t":"2024-12-03","m":3.2,"s":2.3},{"t":"2024-12-08","m":3.0,"s":2.6},{"t":"2024-12-12","m":2.6,"s":2.5},{"t":"2024-12-14","m":2.0,"s":2.2},{"t":"2024-12-17","m":1.2,"s":1.73},{"t":"2024-12-20","m":-0.13,"s":0.93},{"t":"2024-12-24","m":-1.07,"s":0.13},{"t":"2024-12-28","m":-1.9,"s":-0.93},{"t":"2025-01-01","m":-1.6,"s":-1.6},{"t":"2025-01-03","m":-1.07,"s":-1.5},{"t":"2025-01-05","m":-0.93,"s":-1.35},{"t":"2025-01-10","m":-1.33,"s":-1.2},{"t":"2025-01-14","m":-1.2,"s":-1.2},{"t":"2025-01-19","m":-1.07,"s":-1.12},{"t":"2025-01-23","m":-1.15,"s":-1.12},{"t":"2025-01-27","m":-1.33,"s":-1.2},{"t":"2025-01-31","m":-1.73,"s":-1.41},{"t":"2025-02-04","m":-2.4,"s":-1.8},{"t":"2025-02-09","m":-2.5,"s":-2.1},{"t":"2025-02-14","m":-2.0,"s":-2.15},{"t":"2025-02-19","m":-1.4,"s":-1.9},{"t":"2025-02-23","m":-1.0,"s":-1.5},{"t":"2025-02-28","m":-0.85,"s":-1.1},{"t":"2025-03-04","m":-0.8,"s":-0.95},{"t":"2025-03-09","m":-0.85,"s":-0.9},{"t":"2025-03-13","m":-1.04,"s":-0.95},{"t":"2025-03-16","m":-0.9,"s":-0.95},{"t":"2025-03-21","m":-0.48,"s":-0.75},{"t":"2025-03-24","m":0.0,"s":-0.45},{"t":"2025-03-26","m":0.13,"s":-0.25},{"t":"2025-04-01","m":-0.05,"s":-0.05},{"t":"2025-04-06","m":-0.24,"s":-0.12},{"t":"2025-04-08","m":-0.37,"s":-0.2},{"t":"2025-04-12","m":-0.1,"s":-0.2},{"t":"2025-04-16","m":0.0,"s":-0.12},{"t":"2025-04-21","m":0.27,"s":0.05},{"t":"2025-04-26","m":0.4,"s":0.25},{"t":"2025-05-01","m":0.35,"s":0.33},{"t":"2025-05-06","m":0.13,"s":0.3},{"t":"2025-05-09","m":0.4,"s":0.3},{"t":"2025-05-13","m":0.67,"s":0.42},{"t":"2025-05-15","m":0.72,"s":0.5},{"t":"2025-05-19","m":0.53,"s":0.58},{"t":"2025-05-27","m":0.4,"s":0.5},{"t":"2025-06-02","m":-0.13,"s":0.2},{"t":"2025-06-04","m":-0.27,"s":0.05},{"t":"2025-06-09","m":0.0,"s":-0.1},{"t":"2025-06-14","m":-0.35,"s":-0.25},{"t":"2025-06-18","m":-0.65,"s":-0.45},{"t":"2025-06-22","m":-1.0,"s":-0.75},{"t":"2025-06-26","m":-1.04,"s":-1.02}
],
"span":[{"t":"2024-11-02T00:00:00Z","t2":"2025-07-14T14:00:00Z","t3":"2025-07-25T06:00:00Z"}],
"lines":[
{"t":"2025-01-28","t2":"2025-07-01T14:00:00Z","p":27.0,"p2":27.0,"k":"res"},
{"t":"2025-03-02","t2":"2025-07-01T14:00:00Z","p":15.2,"p2":15.2,"k":"sup"},
{"t":"2025-05-12","t2":"2025-07-01T14:00:00Z","p":27.0,"p2":19.2,"k":"trend"}
],
"ann":[
{"t":"2024-11-05T02:30:00Z","p":58.17,"txt":"Avalanche / U.S. dollar · 1D · BITSTAMP","k":"dark"},
{"t":"2024-12-21T05:00:00Z","p":58.17,"txt":"O17.57 H18.01 L17.46 C17.64 +0.08 (+0.47%)","k":"up"},
{"t":"2024-11-05T02:30:00Z","p":55.81,"txt":"EMA (200, close)","k":"dark"},
{"t":"2024-11-24T19:00:00Z","p":55.81,"txt":"24.12","k":"e200"},
{"t":"2024-11-05T02:30:00Z","p":53.39,"txt":"EMA (50, close)","k":"dark"},
{"t":"2024-11-23T06:00:00Z","p":53.39,"txt":"20.12","k":"e50"},
{"t":"2024-11-05T02:30:00Z","p":51.02,"txt":"EMA (14, close)","k":"dark"},
{"t":"2024-11-23T06:00:00Z","p":51.02,"txt":"18.30","k":"e14"},
{"t":"2024-12-20T10:00:00Z","p":46.34,"txt":"14-day EMA","k":"e14"},
{"t":"2025-06-26T12:00:00Z","p":24.7,"txt":"200-day EMA","k":"e200"},
{"t":"2025-06-25T17:00:00Z","p":21.23,"txt":"50-day EMA","k":"e50"}
],
"tags":[
{"t":"2025-07-19T12:00:00Z","p":24.35,"txt":"24.12","k":"e200"},{"t":"2025-07-19T12:00:00Z","p":22.19,"txt":"20.12","k":"e50"},{"t":"2025-07-19T12:00:00Z","p":19.93,"txt":"18.30","k":"e14"},{"t":"2025-07-19T12:00:00Z","p":17.51,"txt":"17.64","k":"up"}
],
"rsitags":[{"t":"2025-07-19T12:00:00Z","v":37.9,"txt":"39.75","k":"rsi"},{"t":"2025-07-19T12:00:00Z","v":25.8,"txt":"","k":"ma"}],
"macdtags":[{"t":"2025-07-19T12:00:00Z","v":-0.02,"txt":"-0.02","k":"hist"},{"t":"2025-07-19T12:00:00Z","v":-0.86,"txt":"","k":"sig"}],
"rsiann":[
{"t":"2024-11-05T02:30:00Z","v":64.3,"txt":"RSI (14, close)","k":"dark"},
{"t":"2024-11-22T17:00:00Z","v":64.3,"txt":"39.75","k":"rsi"},
{"t":"2024-11-29T17:00:00Z","v":64.3,"txt":"37.41","k":"ma"}
],
"macdann":[
{"t":"2024-11-05T02:30:00Z","v":1.06,"txt":"MACD (12, 26, close)","k":"dark"},
{"t":"2024-11-30T05:00:00Z","v":1.06,"txt":"-0.02","k":"hist"},
{"t":"2024-12-07T12:00:00Z","v":1.06,"txt":"-1.04","k":"macd"},
{"t":"2024-12-15T00:00:00Z","v":1.06,"txt":"-1.02","k":"sig"}
]
},
"vconcat":[
{
"width":1024,"height":274,
"data":{"name":"candles"},
"encoding":{"x":{"field":"t","type":"temporal","title":null,"axis":null,"scale":{"type":"utc","nice":false,"domain":[{"year":2024,"month":11,"date":2,"utc":true},{"year":2025,"month":7,"date":25,"hours":6,"utc":true}]}}},
"layer":[
{"mark":{"type":"rule","strokeWidth":1},
 "encoding":{"y":{"field":"l","type":"quantitative","title":null,"scale":{"domain":[13.44,60.89],"nice":false,"zero":false},
   "axis":{"orient":"right","values":[15,30,35,40,45,50,55],"format":".2f","labelAlign":"right","labelPadding":-10,"labelFontSize":11,"labelColor":"#131722","labelFont":"Roboto","title":null,"labelOverlap":false,"labelBaseline":"middle"}},
  "y2":{"field":"h"},
  "color":{"condition":{"test":"datum.c >= datum.o","value":"#089981"},"value":"#F23645"}}},
{"data":{"name":"span"},"mark":{"type":"rule","color":"#089981","strokeDash":[1,2],"strokeWidth":1},
 "encoding":{"x2":{"field":"t2"},"y":{"datum":17.64,"type":"quantitative","title":null,"scale":{"domain":[13.44,60.89],"nice":false,"zero":false}}}},
{"mark":{"type":"bar","width":2.8},
 "encoding":{"y":{"field":"o","type":"quantitative","title":null,"scale":{"domain":[13.44,60.89],"nice":false,"zero":false}},"y2":{"field":"c"},
  "color":{"condition":{"test":"datum.c >= datum.o","value":"#089981"},"value":"#F23645"}}},
{"data":{"name":"e200"},"mark":{"type":"line","color":"#3F5AD8","strokeWidth":2,"interpolate":"monotone"},
 "encoding":{"y":{"field":"v","type":"quantitative","title":null,"scale":{"domain":[13.44,60.89],"nice":false,"zero":false}}}},
{"data":{"name":"e50"},"mark":{"type":"line","color":"#F3A43A","strokeWidth":2,"interpolate":"monotone"},
 "encoding":{"y":{"field":"v","type":"quantitative","title":null,"scale":{"domain":[13.44,60.89],"nice":false,"zero":false}}}},
{"mark":{"type":"line","color":"#45C0CB","strokeWidth":1.6,"interpolate":"monotone"},
 "encoding":{"y":{"field":"e","type":"quantitative","title":null,"scale":{"domain":[13.44,60.89],"nice":false,"zero":false}}}},
{"data":{"name":"lines"},"transform":[{"filter":"datum.k === 'res'"}],"mark":{"type":"rule","color":"#8A8A8A","strokeWidth":3},
 "encoding":{"x2":{"field":"t2"},"y":{"field":"p","type":"quantitative","title":null,"scale":{"domain":[13.44,60.89],"nice":false,"zero":false}},"y2":{"field":"p2"}}},
{"data":{"name":"lines"},"transform":[{"filter":"datum.k === 'sup'"}],"mark":{"type":"rule","color":"#E35BE0","strokeWidth":3},
 "encoding":{"x2":{"field":"t2"},"y":{"field":"p","type":"quantitative","title":null,"scale":{"domain":[13.44,60.89],"nice":false,"zero":false}},"y2":{"field":"p2"}}},
{"data":{"name":"lines"},"transform":[{"filter":"datum.k === 'trend'"}],"mark":{"type":"rule","color":"#4CD64C","strokeWidth":2},
 "encoding":{"x2":{"field":"t2"},"y":{"field":"p","type":"quantitative","title":null,"scale":{"domain":[13.44,60.89],"nice":false,"zero":false}},"y2":{"field":"p2"}}},
{"data":{"name":"ann"},"mark":{"type":"text","align":"left","baseline":"middle","fontSize":9.6,"font":"Roboto"},
 "encoding":{"y":{"field":"p","type":"quantitative","title":null,"scale":{"domain":[13.44,60.89],"nice":false,"zero":false}},"text":{"field":"txt"},
  "color":{"condition":[{"test":"datum.k==='up'","value":"#089981"},{"test":"datum.k==='e200'","value":"#3F5AD8"},{"test":"datum.k==='e50'","value":"#F0A030"},{"test":"datum.k==='e14'","value":"#3CBAC6"}],"value":"#2A2E39"}}},
{"data":{"name":"tags"},"mark":{"type":"tick","orient":"horizontal","size":34,"thickness":13,"opacity":1},
 "encoding":{"y":{"field":"p","type":"quantitative","title":null,"scale":{"domain":[13.44,60.89],"nice":false,"zero":false}},
  "color":{"condition":[{"test":"datum.k==='e200'","value":"#3461E6"},{"test":"datum.k==='e50'","value":"#F5981E"},{"test":"datum.k==='e14'","value":"#2BBFD2"}],"value":"#089981"}}},
{"data":{"name":"tags"},"mark":{"type":"text","align":"center","baseline":"middle","fontSize":11,"font":"Roboto"},
 "encoding":{"y":{"field":"p","type":"quantitative","title":null,"scale":{"domain":[13.44,60.89],"nice":false,"zero":false}},"text":{"field":"txt"},
  "color":{"condition":[{"test":"datum.k==='e50' || datum.k==='e14'","value":"#131722"}],"value":"#FFFFFF"}}}
]
},
{
"width":1024,"height":35,
"data":{"name":"rsi"},
"encoding":{"x":{"field":"t","type":"temporal","title":null,"axis":null,"scale":{"type":"utc","nice":false,"domain":[{"year":2024,"month":11,"date":2,"utc":true},{"year":2025,"month":7,"date":25,"hours":6,"utc":true}]}}},
"layer":[
{"mark":{"type":"line","color":"#7E57C2","strokeWidth":1.2},
 "encoding":{"y":{"field":"v","type":"quantitative","title":null,"scale":{"domain":[20.5,87.1],"nice":false,"zero":false},
  "axis":{"orient":"right","values":[50],"format":".2f","labelAlign":"right","labelPadding":-10,"labelFontSize":11,"labelColor":"#131722","labelFont":"Roboto","title":null,"labelBaseline":"bottom"}}}},
{"data":{"name":"span"},"mark":{"type":"rect","color":"#7E57C2","opacity":0.09},
 "encoding":{"x2":{"field":"t2"},"y":{"datum":30,"type":"quantitative","title":null,"scale":{"domain":[20.5,87.1],"nice":false,"zero":false}},"y2":{"datum":70}}},
{"data":{"name":"span"},"mark":{"type":"rule","color":"#E0E3EB","strokeWidth":1},
 "encoding":{"x2":{"field":"t3"},"y":{"datum":87.0,"type":"quantitative","title":null,"scale":{"domain":[20.5,87.1],"nice":false,"zero":false}}}},
{"data":{"name":"span"},"mark":{"type":"rule","color":"#787B86","strokeDash":[4,4],"strokeWidth":1},
 "encoding":{"x2":{"field":"t2"},"y":{"datum":70,"type":"quantitative","title":null,"scale":{"domain":[20.5,87.1],"nice":false,"zero":false}}}},
{"data":{"name":"span"},"mark":{"type":"rule","color":"#787B86","strokeDash":[4,4],"strokeWidth":1},
 "encoding":{"x2":{"field":"t2"},"y":{"datum":30,"type":"quantitative","title":null,"scale":{"domain":[20.5,87.1],"nice":false,"zero":false}}}},
{"data":{"name":"span"},"mark":{"type":"rule","color":"#787B86","strokeDash":[4,4],"strokeWidth":1,"opacity":0.45},
 "encoding":{"x2":{"field":"t2"},"y":{"datum":50,"type":"quantitative","title":null,"scale":{"domain":[20.5,87.1],"nice":false,"zero":false}}}},
{"data":{"name":"rsima"},"mark":{"type":"line","color":"#F2C75C","strokeWidth":1.2,"interpolate":"monotone"},
 "encoding":{"y":{"field":"v","type":"quantitative","title":null,"scale":{"domain":[20.5,87.1],"nice":false,"zero":false}}}},
{"mark":{"type":"line","color":"#7E57C2","strokeWidth":1.2},
 "encoding":{"y":{"field":"v","type":"quantitative","title":null,"scale":{"domain":[20.5,87.1],"nice":false,"zero":false}}}},
{"data":{"name":"rsiann"},"mark":{"type":"text","align":"left","baseline":"middle","fontSize":9.6,"font":"Roboto"},
 "encoding":{"y":{"field":"v","type":"quantitative","title":null,"scale":{"domain":[20.5,87.1],"nice":false,"zero":false}},"text":{"field":"txt"},
  "color":{"condition":[{"test":"datum.k==='rsi'","value":"#7E57C2"},{"test":"datum.k==='ma'","value":"#EFC050"}],"value":"#2A2E39"}}},
{"data":{"name":"rsitags"},"transform":[{"filter":"datum.k==='rsi'"}],"mark":{"type":"tick","orient":"horizontal","size":34,"thickness":11,"opacity":1,"color":"#7E57C2"},
 "encoding":{"y":{"field":"v","type":"quantitative","title":null,"scale":{"domain":[20.5,87.1],"nice":false,"zero":false}}}},
{"data":{"name":"rsitags"},"transform":[{"filter":"datum.k==='ma'"}],"mark":{"type":"tick","orient":"horizontal","size":34,"thickness":4,"opacity":1,"color":"#F2C75C"},
 "encoding":{"y":{"field":"v","type":"quantitative","title":null,"scale":{"domain":[20.5,87.1],"nice":false,"zero":false}}}},
{"data":{"name":"rsitags"},"mark":{"type":"text","align":"center","baseline":"middle","fontSize":10.5,"font":"Roboto","color":"#FFFFFF"},
 "encoding":{"y":{"field":"v","type":"quantitative","title":null,"scale":{"domain":[20.5,87.1],"nice":false,"zero":false}},"text":{"field":"txt"}}}
]
},
{
"width":1024,"height":45,
"data":{"name":"macd"},
"encoding":{"x":{"field":"t","type":"temporal","title":null,"scale":{"type":"utc","nice":false,"domain":[{"year":2024,"month":11,"date":2,"utc":true},{"year":2025,"month":7,"date":25,"hours":6,"utc":true}]},
 "axis":{"values":[1733011200000,1735689600000,1738368000000,1740787200000,1743465600000,1746057600000,1748736000000,1751328000000],
  "labelExpr":"utcmonth(datum.value) == 0 ? utcFormat(datum.value, '%Y') : utcFormat(datum.value, '%b')",
  "labelFontWeight":{"condition":{"test":"utcmonth(datum.value) == 0","value":"bold"},"value":"normal"},
  "labelFontSize":10,"labelFont":"Roboto","labelColor":"#131722","labelPadding":1,"labelOverlap":false,"labelFlush":false,"title":null}}},
"layer":[
{"data":{"name":"span"},"mark":{"type":"rule","color":"#E0E3EB","strokeWidth":1},
 "encoding":{"x2":{"field":"t3"},"y":{"datum":2.07,"type":"quantitative","axis":null,"scale":{"domain":[-1.52,2.08],"nice":false,"zero":false}}}},
{"data":{"name":"span"},"mark":{"type":"rule","color":"#9598A1","strokeDash":[4,4],"strokeWidth":1},
 "encoding":{"x2":{"field":"t2"},"y":{"datum":0,"type":"quantitative","axis":null,"scale":{"domain":[-1.52,2.08],"nice":false,"zero":false}}}},
{"data":{"name":"candles"},"transform":[{"window":[{"op":"lag","field":"g","as":"pg"}],"sort":[{"field":"t"}]}],
 "mark":{"type":"bar","width":2.6},
 "encoding":{"y":{"field":"g","type":"quantitative","title":null,"axis":null,"scale":{"domain":[-1.52,2.08],"nice":false,"zero":false}},"y2":{"datum":0},
  "color":{"condition":[{"test":"datum.g >= 0 && (datum.pg == null || datum.g >= datum.pg)","value":"#26A69A"},{"test":"datum.g >= 0","value":"#B2DFDB"},{"test":"datum.pg == null || datum.g <= datum.pg","value":"#FF5252"}],"value":"#FFCDD2"}}},
{"mark":{"type":"line","color":"#2962FF","strokeWidth":1,"clip":true,"interpolate":"monotone"},
 "encoding":{"y":{"field":"m","type":"quantitative","title":null,"axis":null,"scale":{"domain":[-1.52,2.08],"nice":false,"zero":false}}}},
{"mark":{"type":"line","color":"#FF6D00","strokeWidth":1,"clip":true,"interpolate":"monotone"},
 "encoding":{"y":{"field":"s","type":"quantitative","title":null,"axis":null,"scale":{"domain":[-1.52,2.08],"nice":false,"zero":false}}}},
{"data":{"name":"macdann"},"mark":{"type":"text","align":"left","baseline":"middle","fontSize":9.6,"font":"Roboto"},
 "encoding":{"y":{"field":"v","type":"quantitative","title":null,"axis":null,"scale":{"domain":[-1.52,2.08],"nice":false,"zero":false}},"text":{"field":"txt"},
  "color":{"condition":[{"test":"datum.k==='hist'","value":"#F4A6B4"},{"test":"datum.k==='macd'","value":"#2962FF"},{"test":"datum.k==='sig'","value":"#FF6D00"}],"value":"#2A2E39"}}},
{"data":{"name":"macdtags"},"transform":[{"filter":"datum.k==='sig'"}],"mark":{"type":"tick","orient":"horizontal","size":34,"thickness":6,"opacity":1,"color":"#FF6D00"},
 "encoding":{"y":{"field":"v","type":"quantitative","title":null,"axis":null,"scale":{"domain":[-1.52,2.08],"nice":false,"zero":false}}}},
{"data":{"name":"macdtags"},"transform":[{"filter":"datum.k==='hist'"}],"mark":{"type":"tick","orient":"horizontal","size":34,"thickness":13,"opacity":1,"color":"#FFCDD2"},
 "encoding":{"y":{"field":"v","type":"quantitative","title":null,"axis":null,"scale":{"domain":[-1.52,2.08],"nice":false,"zero":false}}}},
{"data":{"name":"macdtags"},"mark":{"type":"text","align":"center","baseline":"middle","fontSize":11,"font":"Roboto","color":"#131722"},
 "encoding":{"y":{"field":"v","type":"quantitative","title":null,"axis":null,"scale":{"domain":[-1.52,2.08],"nice":false,"zero":false}},"text":{"field":"txt"}}}
]
}
]
}
